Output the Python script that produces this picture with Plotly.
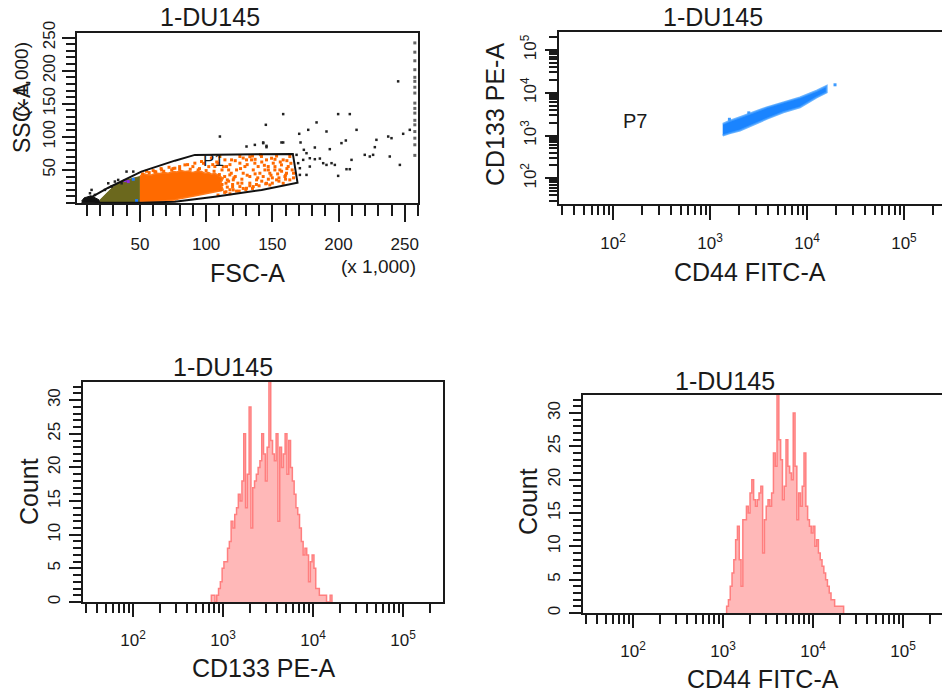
import plotly.graph_objects as go

W, H = 942, 699
FONT = "Liberation Sans, Arial, sans-serif"
INK = "#1a1a1a"

# ---------------- Panel 1: FSC-A vs SSC-A (units of 1,000) ----------------
gate_p1_fsc = [10.8, 25.8, 51.1, 76.4, 91.5, 165.5, 169.0, 141.9, 106.6, 76.4, 51.3, 18.5, 10.8]
gate_p1_ssc = [6.0, 22.7, 47.4, 64.0, 72.7, 74.2, 30.8, 19.7, 9.5, 2.0, 0.5, 0.5, 6.0]

# dense population outlines
orange_core_fsc = [50, 53, 55, 58.8, 62, 65, 68, 71.4, 75, 78, 81, 84, 87, 90, 93, 96.5, 99, 102, 104,
                   106.6, 110, 112.9, 111, 112.9, 110, 107, 104, 101.6, 98, 95, 92, 89, 85, 82, 79,
                   76.4, 73, 70, 67, 63.8, 59, 55, 50]
orange_core_ssc = [41, 44, 43, 42.5, 45, 44.5, 46, 45, 47.5, 47, 49, 47.5, 48.5, 46, 48, 47.5, 45, 46,
                   43.5, 45, 41, 37.4, 30, 19.8, 18, 17, 15.5, 14.7, 13, 12, 11, 9.7, 8.5, 7, 6,
                   4.6, 4, 3, 2.5, 1.6, 1.4, 1.2, 2]
olive_fsc = [19.8, 50, 50, 43.7, 38, 33.6, 29, 26.1, 22, 19.8]
olive_ssc = [0.5, 0.5, 40, 37.4, 34, 29.8, 23, 17.2, 9, 4.6]
blob_fsc = [6, 20, 19, 16, 13, 10, 8, 6]
blob_ssc = [0.5, 0.5, 5, 8, 11, 9, 8, 3]

orange_fsc = [115.4, 119.2, 123, 125.5, 130.5, 133, 136.8, 139.3, 141.8, 144.4, 145.6, 148.1, 150.7, 153.2,
              155.7, 158.2, 159.5, 162, 163.2, 133, 138.1, 143.1, 120.5, 128, 153.2, 160.7, 125.5, 135.6,
              140.6, 146.9, 156.9, 149.4, 117.9, 114.2, 110.4, 129.3, 134.3, 151.9, 145.6, 158.2, 163.2,
              125.5, 135.6, 148.1, 120.5, 130.5, 102, 108, 98, 104, 95, 112, 90, 86, 80, 75, 84, 91.5,
              96.5, 106.6, 76.4, 66.4, 61.3,
              52, 57, 62, 68, 74, 80, 88, 94, 100, 106, 110, 114, 115, 116, 114, 118, 120, 60, 66, 72,
              55, 125, 130, 135, 140, 150, 155, 160, 118, 109, 117, 121, 127,
              112, 116, 119, 122, 124, 127, 131, 133, 137, 139, 142, 144, 147, 149, 152, 154, 157, 161,
              164, 166, 126, 131, 137, 142, 147, 152, 156, 161, 118, 122, 128, 135, 141, 113, 109, 105,
              117, 120, 128, 133, 138, 145, 150, 155, 160, 165, 166, 111, 115, 123]
orange_ssc = [55.1, 65.2, 50, 60.2, 65.2, 70, 60.2, 55.1, 70.3, 50, 65.2, 45, 60.2, 71, 50, 65.2, 40, 55.1,
              70.3, 40, 35, 40, 35, 45, 35, 45, 70.3, 50, 45, 55.1, 57.6, 67.7, 42.5, 65.2, 70.3, 55.1, 65.2,
              50, 29.8, 29.8, 35, 24.8, 24.8, 27.3, 19.8, 22.3, 55, 62, 60, 68, 52, 50, 55, 58, 55, 52, 57.6,
              60.2, 62.7, 55.1, 52.6, 50, 47.5,
              44, 46, 47, 48, 50, 51, 51, 50, 49, 48, 43, 40, 30, 24, 16, 20, 28, 49, 52, 54,
              48, 18, 20, 22, 26, 30, 33, 36, 14, 12, 33, 38, 30,
              28, 35, 45, 40, 30, 36, 42, 30, 44, 38, 33, 57, 36, 42, 55, 44, 48, 52,
              60, 45, 52, 58, 66, 62, 50, 66, 62, 64, 58, 64, 68, 71, 73, 55, 60, 58,
              50, 24, 22, 26, 28, 29, 38, 38, 42, 50, 38, 20, 17, 18]

black_fsc = [110.4, 145.1, 158.2, 183.4, 199.7, 208.5, 177.1, 170.3, 190.9, 213.6, 245, 248.8, 253.8,
             143.1, 145.6, 156.9, 171.3, 173.8, 175.8, 182.1, 178.3, 182.1, 185.9, 193.4, 202.2, 205.5,
             209.8, 219.8, 223.6, 226.1, 228.6, 227.4, 237.5, 240, 238.7, 246.3, 188.4, 190.9, 194.7,
             197.2, 206, 208.5, 199.7, 170.8, 170.8, 175.8, 178.3, 169.5, 168.3, 173.3, 130.5, 136.8,
             143.1, 145.6, 158.2, 39.9, 45, 26.1, 31.1, 33.6, 36.2, 28.6, 23.6, 16, 12.3, 13.5]
black_ssc = [100.5, 118.2, 134.4, 121.8, 134.4, 134.4, 110.6, 104.6, 108.1, 110.6, 183.9, 104.6, 110.6,
             91.5, 84.4, 91.5, 91.5, 80.4, 75.3, 83.9, 67.7, 66.2, 67.2, 81.4, 90.5, 94.5, 65.2, 72.8,
             70.3, 72.8, 95.5, 84.4, 100.5, 98, 70.3, 57.6, 60.2, 57.6, 60.2, 57.6, 51.1, 51.1, 41, 52.6,
             42.5, 42.5, 55.1, 60.2, 72.8, 65.2, 85.4, 87.9, 90.5, 86.4, 91.5, 47.5, 47.5, 29.8, 32.4,
             34.9, 29.8, 24.8, 19.8, 12.2, 14.7, 19.8]

# events piled up at the FSC ceiling
edge_fsc = [257.6] * 17
edge_ssc = [242, 228, 215, 201.5, 190, 183.9, 175, 166.2, 151, 143, 135.9, 125, 118.2, 108, 98, 88, 72]

purple_fsc = [38.7, 41.2]
purple_ssc = [33.9, 32.4]
blue_fsc = [45, 47.5]
blue_ssc = [35.9, 3.6]

fsc_ticks = [50, 100, 150, 200, 250]
ssc_ticks = [50, 100, 150, 200, 250]

# ---------------- Panel 2: CD44 FITC-A vs CD133 PE-A (log10 of intensity) ----------------
p7_cd44_log = 3.12
streak_upper_lx = [3.131, 3.20, 3.309, 3.45, 3.584, 3.756, 3.928, 4.10, 4.203]
streak_upper_ly = [3.272, 3.34, 3.427, 3.54, 3.659, 3.776, 3.892, 4.047, 4.163]
streak_lower_lx = [4.203, 4.10, 3.928, 3.756, 3.584, 3.45, 3.309, 3.20, 3.131]
streak_lower_ly = [4.008, 3.892, 3.659, 3.543, 3.388, 3.25, 3.117, 3.05, 3.0]
stray_lx = [4.289, 3.20, 3.40]
stray_ly = [4.186, 3.38, 3.53]

decade_ticks = [100, 1000, 10000, 100000]
decade_text = ["10<sup>2</sup>", "10<sup>3</sup>", "10<sup>4</sup>", "10<sup>5</sup>"]
log_minor = [k * 10 ** d for d in range(1, 6) for k in range(2, 10)]

# ---------------- Panels 3 & 4: histograms ----------------
bin_width = 0.02  # decades per bin
cd133_start = 2.87
cd133_counts = [1, 1, 0, 1, 2, 3, 5, 6, 6, 8,
                9, 12, 11, 13, 14, 16, 15, 18, 25, 14,
                19, 29, 11, 17, 18, 19, 20, 21, 25, 22,
                18, 23, 33, 24, 22, 21, 25, 12, 23, 20,
                22, 25, 19, 24, 20, 18, 16, 14, 13, 11,
                9, 7, 8, 7, 3, 6, 7, 5, 2, 2,
                1, 1, 1, 1, 0, 0, 1]
cd44_start = 3.04
cd44_counts = [1, 2, 4, 6, 8, 11, 13, 8, 4, 14,
               14, 16, 15, 18, 20, 17, 16, 17, 18, 19,
               9, 14, 16, 17, 16, 18, 24, 22, 33, 26,
               23, 17, 19, 26, 22, 21, 20, 30, 22, 14,
               18, 16, 19, 24, 16, 14, 13, 12, 13, 10,
               11, 9, 8, 7, 6, 5, 4, 3, 2, 2,
               1, 1, 1, 1, 1]
count_ticks = [0, 5, 10, 15, 20, 25, 30]


def px(x):
    return x / W


def py(y):
    return 1 - y / H


def hist_xy(start, counts):
    edges = [10 ** (start + i * bin_width) for i in range(len(counts) + 1)]
    return [edges[0]] + edges, [0] + counts + [0]


fig = go.Figure()

# panel 1
fig.add_trace(go.Scatter(x=blob_fsc, y=blob_ssc, fill="toself", fillcolor="#111111",
                         line=dict(color="#111111", width=1), mode="lines", xaxis="x", yaxis="y"))
fig.add_trace(go.Scatter(x=olive_fsc, y=olive_ssc, fill="toself", fillcolor="#6b681d",
                         line=dict(color="#6b681d", width=1), mode="lines", xaxis="x", yaxis="y"))
fig.add_trace(go.Scatter(x=orange_core_fsc, y=orange_core_ssc, fill="toself", fillcolor="#ff6a00",
                         line=dict(color="#ff7a1a", width=1.5), mode="lines", xaxis="x", yaxis="y"))
fig.add_trace(go.Scatter(x=orange_fsc, y=orange_ssc, mode="markers",
                         marker=dict(symbol="square", size=3, color="#ff6a00"), xaxis="x", yaxis="y"))
fig.add_trace(go.Scatter(x=black_fsc, y=black_ssc, mode="markers",
                         marker=dict(symbol="square", size=2.5, color="#222222"), xaxis="x", yaxis="y"))
fig.add_trace(go.Scatter(x=edge_fsc, y=edge_ssc, mode="markers",
                         marker=dict(symbol="square", size=3, color="#666666"), xaxis="x", yaxis="y",
                         cliponaxis=False))
fig.add_trace(go.Scatter(x=purple_fsc, y=purple_ssc, mode="markers",
                         marker=dict(symbol="square", size=3, color="#8a2be2"), xaxis="x", yaxis="y"))
fig.add_trace(go.Scatter(x=blue_fsc, y=blue_ssc, mode="markers",
                         marker=dict(symbol="square", size=3, color="#1e7bff"), xaxis="x", yaxis="y"))
fig.add_trace(go.Scatter(x=gate_p1_fsc, y=gate_p1_ssc, mode="lines",
                         line=dict(color="#111111", width=2), xaxis="x", yaxis="y"))

# panel 2
streak_x = [10 ** v for v in streak_upper_lx + streak_lower_lx]
streak_y = [10 ** v for v in streak_upper_ly + streak_lower_ly]
fig.add_trace(go.Scatter(x=streak_x, y=streak_y, fill="toself", fillcolor="#1a84ff",
                         line=dict(color="rgba(70,160,255,0.8)", width=2), mode="lines",
                         xaxis="x2", yaxis="y2"))
fig.add_trace(go.Scatter(x=[10 ** v for v in stray_lx], y=[10 ** v for v in stray_ly], mode="markers",
                         marker=dict(symbol="square", size=3, color="#3d9bff"), xaxis="x2", yaxis="y2"))

# panels 3 & 4
for start, counts, xa, ya in [(cd133_start, cd133_counts, "x3", "y3"), (cd44_start, cd44_counts, "x4", "y4")]:
    hx, hy = hist_xy(start, counts)
    fig.add_trace(go.Scatter(x=hx, y=hy, mode="lines", line_shape="hv", fill="tozeroy",
                             fillcolor="#ffb8b8", line=dict(color="#ff7f7f", width=1.5),
                             xaxis=xa, yaxis=ya))

tick_font = dict(family=FONT, size=17, color=INK)


def frame(mirror=True):
    return dict(showline=True, linecolor=INK, linewidth=2, mirror=mirror, showgrid=False,
                zeroline=False, ticks="outside", tickcolor=INK, tickwidth=2, tickfont=tick_font,
                automargin=False)


xa1 = frame()
xa1.update(domain=[px(77), px(418)], range=[2.5, 260], tickvals=fsc_ticks, ticklen=17,
           minor=dict(dtick=10, tick0=0, ticks="outside", ticklen=11, tickwidth=2, tickcolor=INK),
           anchor="y", ticklabelstandoff=8)
ya1 = frame()
ya1.update(domain=[py(203), py(33)], range=[0, 257], tickvals=ssc_ticks, ticklen=13, tickangle=-90,
           minor=dict(dtick=10, tick0=0, ticks="outside", ticklen=9, tickwidth=2, tickcolor=INK),
           anchor="x", ticklabelstandoff=0)

log_minor_cfg = dict(tickvals=log_minor, ticks="outside", ticklen=9, tickwidth=2, tickcolor=INK)

xa2 = frame()
xa2.update(type="log", domain=[px(559), 1.0], range=[1.443, 5.392], tickvals=decade_ticks,
           ticktext=decade_text, ticklen=14, minor=log_minor_cfg, anchor="y2", ticklabelstandoff=9)
ya2 = frame(mirror=False)
ya2.update(type="log", domain=[py(204), py(32)], range=[1.40, 5.42], tickvals=decade_ticks,
           ticktext=decade_text, ticklen=12, tickangle=-90, anchor="x2",
           minor=dict(tickvals=log_minor, ticks="outside", ticklen=8, tickwidth=2, tickcolor=INK),
           ticklabelstandoff=2)

xa3 = frame()
xa3.update(type="log", domain=[px(83), px(443)], range=[1.444, 5.444], tickvals=decade_ticks,
           ticktext=decade_text, ticklen=13, minor=log_minor_cfg, anchor="y3", ticklabelstandoff=9)
ya3 = frame()
ya3.update(domain=[py(602), py(382)], range=[0, 32.7], tickvals=count_ticks, ticklen=12, tickangle=-90,
           minor=dict(dtick=1, tick0=0, ticks="outside", ticklen=8, tickwidth=1.5, tickcolor=INK),
           anchor="x3", ticklabelstandoff=2)

xa4 = frame()
xa4.update(type="log", domain=[px(583), 1.0], range=[1.444, 5.433], tickvals=decade_ticks,
           ticktext=decade_text, ticklen=13, minor=log_minor_cfg, anchor="y4", ticklabelstandoff=9)
ya4 = frame(mirror=False)
ya4.update(domain=[py(613), py(395)], range=[0, 32.7], tickvals=count_ticks, ticklen=12, tickangle=-90,
           minor=dict(dtick=1, tick0=0, ticks="outside", ticklen=8, tickwidth=1.5, tickcolor=INK),
           anchor="x4", ticklabelstandoff=2)


def label(text, x, y, size=25, angle=0):
    return dict(text=text, x=px(x), y=py(y), xref="paper", yref="paper", showarrow=False,
                textangle=angle, font=dict(family=FONT, size=size, color=INK),
                xanchor="center", yanchor="middle")


annotations = [
    label("1-DU145", 210, 17),
    label("1-DU145", 713, 17),
    label("1-DU145", 223, 367),
    label("1-DU145", 725, 381),
    label("FSC-A", 247, 273),
    label("(x 1,000)", 378, 267, size=19),
    label("SSC-A", 22, 118, angle=-90, size=23),
    label("(x 1,000)", 22, 80, angle=-90, size=19),
    label("CD44 FITC-A", 750, 272),
    label("CD133 PE-A", 495, 115, angle=-90),
    label("Count", 29, 492, angle=-90),
    label("CD133 PE-A", 263, 668),
    label("Count", 528, 502, angle=-90),
    label("CD44 FITC-A", 763, 679),
    dict(text="P1", x=105.2, y=63.6, xref="x", yref="y", showarrow=False,
         font=dict(family=FONT, size=17, color=INK)),
    dict(text="P7", x=2.227, y=3.33, xref="x2", yref="y2", showarrow=False,
         font=dict(family=FONT, size=20, color=INK)),
]

shapes = [dict(type="line", xref="x2", yref="y2 domain", x0=p7_cd44_log, x1=p7_cd44_log, y0=0, y1=1,
               line=dict(color=INK, width=2))]

fig.update_layout(
    width=W, height=H, margin=dict(l=0, r=0, t=0, b=0, pad=0, autoexpand=False),
    paper_bgcolor="white", plot_bgcolor="white", showlegend=False,
    xaxis=xa1, yaxis=ya1, xaxis2=xa2, yaxis2=ya2, xaxis3=xa3, yaxis3=ya3, xaxis4=xa4, yaxis4=ya4,
    annotations=annotations, shapes=shapes,
)

fig.write_html("out.html", config={"displayModeBar": False})
